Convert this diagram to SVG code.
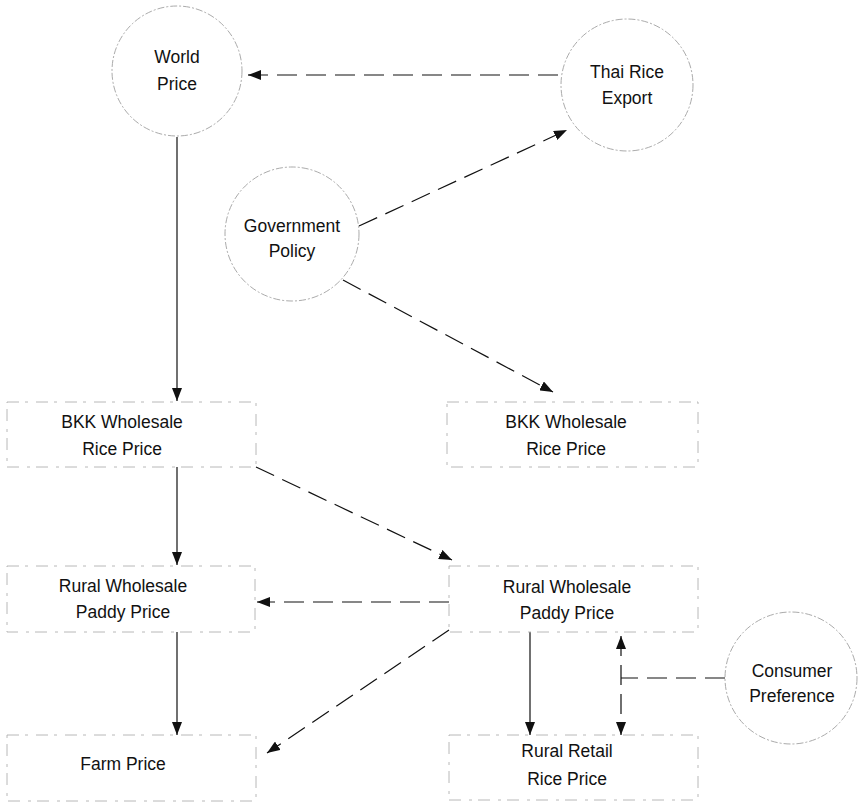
<svg xmlns="http://www.w3.org/2000/svg" width="864" height="804" viewBox="0 0 864 804">
  <defs>
    <style>
      .circle { fill: none; stroke: #a0a0a0; stroke-width: 0.9; stroke-dasharray: 7 2 2 2; }
      .box { fill: none; stroke: #b0b0b0; stroke-width: 0.9; stroke-dasharray: 12 6 3 8; }
      .label { font-family: "Liberation Sans", Arial, sans-serif; font-size: 17.5px; fill: #111; text-anchor: middle; }
      .solid { fill: none; stroke: #111; stroke-width: 1.2; }
      .dash { fill: none; stroke: #111; stroke-width: 1.2; stroke-dasharray: 20 9; }
    </style>
    <marker id="arrow" viewBox="0 0 13 10" refX="13" refY="5" markerWidth="13" markerHeight="10" markerUnits="userSpaceOnUse" orient="auto-start-reverse">
      <path d="M0,0 L13,5 L0,10 z" fill="#111"/>
    </marker>
  </defs>
  <rect width="864" height="804" fill="#ffffff"/>

  <!-- connectors -->
  <g id="connectors">
    <line class="solid" x1="177" y1="137" x2="177" y2="401" marker-end="url(#arrow)"/>
    <line class="dash" x1="558" y1="75" x2="248" y2="75" marker-end="url(#arrow)"/>
    <line class="dash" x1="359" y1="226" x2="567" y2="130" marker-end="url(#arrow)"/>
    <line class="dash" x1="343" y1="280" x2="553" y2="392" marker-end="url(#arrow)"/>
    <line class="solid" x1="177" y1="467" x2="177" y2="565" marker-end="url(#arrow)"/>
    <line class="dash" x1="256" y1="467" x2="452" y2="560" marker-end="url(#arrow)"/>
    <line class="dash" x1="449" y1="602" x2="257" y2="602" marker-end="url(#arrow)"/>
    <line class="solid" x1="177" y1="632" x2="177" y2="735" marker-end="url(#arrow)"/>
    <line class="dash" x1="449" y1="630" x2="267" y2="753" marker-end="url(#arrow)"/>
    <line class="solid" x1="530" y1="632" x2="530" y2="735" marker-end="url(#arrow)"/>
    <line class="dash" x1="621" y1="636" x2="621" y2="735" marker-start="url(#arrow)" marker-end="url(#arrow)"/>
    <line class="dash" x1="725" y1="678" x2="621" y2="678"/>
  </g>

  <!-- nodes -->
  <g id="world-price">
    <circle class="circle" cx="177" cy="71" r="65"/>
    <text class="label" x="177" y="63">World</text>
    <text class="label" x="177" y="90">Price</text>
  </g>
  <g id="thai-rice-export">
    <circle class="circle" cx="627" cy="85" r="66"/>
    <text class="label" x="627" y="78">Thai Rice</text>
    <text class="label" x="627" y="104">Export</text>
  </g>
  <g id="government-policy">
    <circle class="circle" cx="292" cy="234" r="67"/>
    <text class="label" x="292" y="232">Government</text>
    <text class="label" x="292" y="257">Policy</text>
  </g>
  <g id="consumer-preference">
    <circle class="circle" cx="791" cy="678" r="66"/>
    <text class="label" x="792" y="677">Consumer</text>
    <text class="label" x="792" y="702">Preference</text>
  </g>
  <g id="bkk-wholesale-left">
    <rect class="box" x="7" y="402" width="249" height="65"/>
    <text class="label" x="122" y="428">BKK Wholesale</text>
    <text class="label" x="122" y="455">Rice Price</text>
  </g>
  <g id="bkk-wholesale-right">
    <rect class="box" x="447" y="402" width="251" height="65"/>
    <text class="label" x="566" y="428">BKK Wholesale</text>
    <text class="label" x="566" y="455">Rice Price</text>
  </g>
  <g id="rural-wholesale-left">
    <rect class="box" x="7" y="566" width="248" height="66"/>
    <text class="label" x="123" y="592">Rural Wholesale</text>
    <text class="label" x="123" y="618">Paddy Price</text>
  </g>
  <g id="rural-wholesale-right">
    <rect class="box" x="449" y="566" width="249" height="66"/>
    <text class="label" x="567" y="593">Rural Wholesale</text>
    <text class="label" x="567" y="619">Paddy Price</text>
  </g>
  <g id="farm-price">
    <rect class="box" x="7" y="735" width="249" height="66"/>
    <text class="label" x="123" y="770">Farm Price</text>
  </g>
  <g id="rural-retail">
    <rect class="box" x="449" y="735" width="249" height="65"/>
    <text class="label" x="567" y="757">Rural Retail</text>
    <text class="label" x="567" y="785">Rice Price</text>
  </g>
</svg>
